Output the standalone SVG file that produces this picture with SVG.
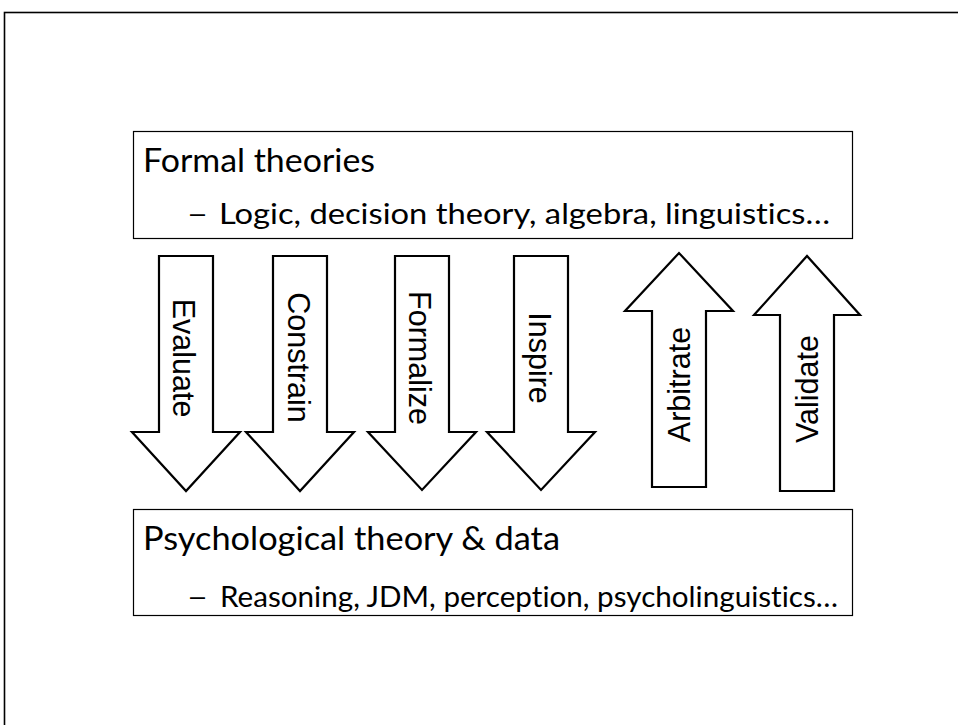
<svg xmlns="http://www.w3.org/2000/svg" width="958" height="725" viewBox="0 0 958 725">
<style>
.frame{fill:none;stroke:#000;stroke-width:1.6}
.box{fill:#fff;stroke:#000;stroke-width:1.2}
.arrow{fill:#fff;stroke:#000;stroke-width:2.2;stroke-linejoin:miter}
.h1{font-family:Lato,"Open Sans","Noto Sans",sans-serif;font-size:32.5px;fill:#000;font-variant-ligatures:none}
.h2{font-family:Lato,"Open Sans","Noto Sans",sans-serif;font-size:28px;fill:#000;font-variant-ligatures:none}
.dash{font-family:"Liberation Sans",Arial,sans-serif;font-size:27px;fill:#000}
.lab{font-family:"Liberation Sans",Arial,sans-serif;font-size:30.5px;fill:#000;text-anchor:middle}
</style>
<rect width="958" height="725" fill="#fff"/>
<rect class="frame" x="4.5" y="12.5" width="1000" height="800"/>
<g id="formal-theories">
<rect class="box" x="133.5" y="131.5" width="719" height="107"/>
<text class="h1" x="143" y="172" textLength="232" lengthAdjust="spacingAndGlyphs">Formal theories</text>
<text class="dash" x="190" y="222">–</text>
<text class="h2" x="219" y="224" textLength="611" lengthAdjust="spacingAndGlyphs">Logic, decision theory, algebra, linguistics…</text>
</g>
<g id="psych-theory">
<rect class="box" x="133.5" y="509.5" width="719" height="106"/>
<text class="h1" x="143" y="550" textLength="417" lengthAdjust="spacingAndGlyphs">Psychological theory &amp; data</text>
<text class="dash" x="190" y="605">–</text>
<text class="h2" x="220" y="607" textLength="618" lengthAdjust="spacingAndGlyphs">Reasoning, JDM, perception, psycholinguistics…</text>
</g>
<g id="connectors">
<g id="evaluate">
<polygon class="arrow" points="159,256 213,256 213,432 240,432 186,491 132,432 159,432"/>
<text class="lab" transform="translate(173,358) rotate(90)">Evaluate</text>
</g>
<g id="constrain">
<polygon class="arrow" points="273,256 327,256 327,432 354,432 300,491 246,432 273,432"/>
<text class="lab" transform="translate(288,357.5) rotate(90)">Constrain</text>
</g>
<g id="formalize">
<polygon class="arrow" points="395,256 449,256 449,432 476,432 422,490 368,432 395,432"/>
<text class="lab" transform="translate(409,358) rotate(90)">Formalize</text>
</g>
<g id="inspire">
<polygon class="arrow" points="514,256 568,256 568,432 595,432 541,490 487,432 514,432"/>
<text class="lab" transform="translate(529,358) rotate(90)">Inspire</text>
</g>
<g id="arbitrate">
<polygon class="arrow" points="652,487 706,487 706,311 733,311 679,253 625,311 652,311"/>
<text class="lab" transform="translate(690,384.5) rotate(-90)">Arbitrate</text>
</g>
<g id="validate">
<polygon class="arrow" points="780,491 834,491 834,315 860,315 807,256 754,315 780,315"/>
<text class="lab" transform="translate(818,389) rotate(-90)">Validate</text>
</g>
</g>
</svg>
